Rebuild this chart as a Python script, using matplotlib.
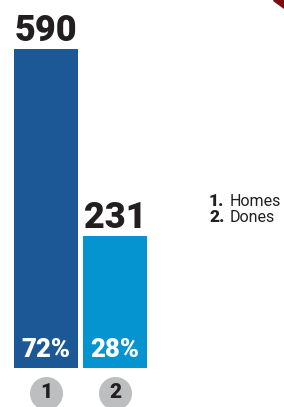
import matplotlib
matplotlib.use('Agg')
from matplotlib import pyplot as plt
from matplotlib import transforms as mtransforms
from matplotlib.patches import Polygon

# data
positions = [0, 1]
ids = ['1', '2']
values = [590, 231]
shares = ['72%', '28%']
names = ['Homes', 'Dones']
colors = ['#1c5796', '#0594d0']

base = -22.4  # bars start a bit below zero in the original

plt.rcParams['font.family'] = ['Roboto', 'DejaVu Sans']

fig = plt.figure(figsize=(2.84, 4.07), dpi=100)
ax = fig.add_axes([0, 0, 1, 1])
ax.set_xlim(-0.667, 3.449)
ax.set_ylim(-97.3, 684.1)
ax.axis('off')

heights = [v - base for v in values]
ax.bar(positions, heights, bottom=base, width=0.928, color=colors)

for x, v, s in zip(positions, values, shares):
    ax.annotate(str(v), (x, v), xytext=(0, 6), textcoords='offset points',
                ha='center', va='baseline', fontsize=26, fontweight='black',
                color='#231f20')
    ax.annotate(s, (x, base), xytext=(0, 8), textcoords='offset points',
                ha='center', va='baseline', fontsize=18.5, fontweight='black',
                color='white')

# grey numbered circles under the bars
trans = mtransforms.blended_transform_factory(ax.transData, ax.transAxes)
ax.scatter(positions, [0.0344, 0.0344], s=520, color='#bcbec0',
           transform=trans, clip_on=False, zorder=3)
for x, t in zip(positions, ids):
    ax.text(x, 0.0344, t, transform=trans, ha='center', va='center',
            fontsize=15, fontweight='black', color='#231f20', zorder=4)

# legend
for i, (t, n) in enumerate(zip(ids, names)):
    yb = 1 - (206 + 16 * i) / 407
    fig.text(209 / 284, yb, t + '.', ha='left', va='baseline',
             fontsize=12.5, fontweight='black', color='#231f20')
    fig.text(230 / 284, yb, n, ha='left', va='baseline',
             fontsize=11.5, color='#231f20')

# small corner triangle
fig.patches.append(Polygon([[273 / 284, 1], [1, 1], [1, 1 - 8 / 407]],
                           closed=True, transform=fig.transFigure,
                           color='#7a0b12'))

fig.savefig('out.png', dpi=100)
